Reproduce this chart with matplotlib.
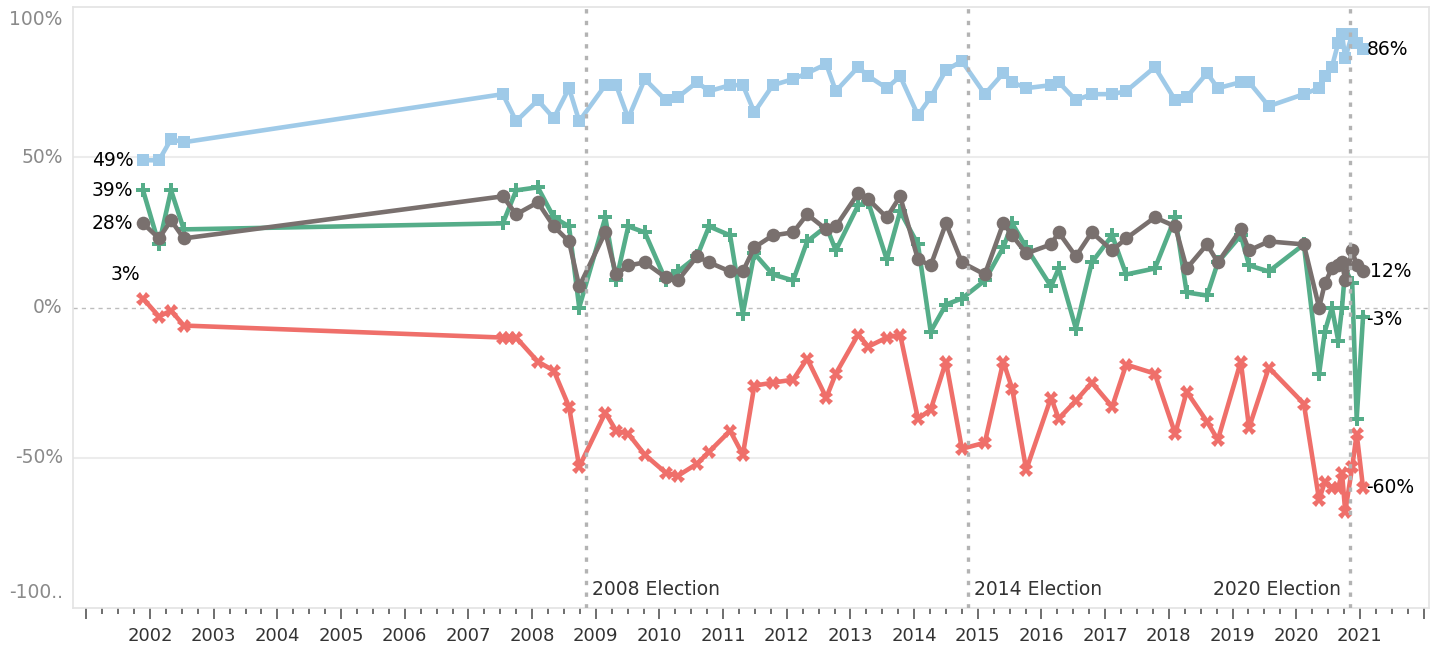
import numpy as np
import matplotlib.pyplot as plt

BLUE = "#9fcae8"
GRAY = "#79706e"
GREEN = "#55ad89"
RED = "#ef6f6a"
LABEL = "#333333"
AXIS_TXT = "#8a8a8a"

# survey dates as decimal years (shared by all four series)
dates = [2001.89, 2002.14, 2002.33, 2002.53, 2007.54, 2007.64, 2007.75, 2008.09,
         2008.34, 2008.58, 2008.74, 2009.15, 2009.32, 2009.51, 2009.77, 2010.10,
         2010.29, 2010.59, 2010.78, 2011.11, 2011.31, 2011.49, 2011.78, 2012.10,
         2012.32, 2012.62, 2012.77, 2013.12, 2013.28, 2013.57, 2013.78, 2014.06,
         2014.26, 2014.50, 2014.75, 2015.11, 2015.40, 2015.54, 2015.76, 2016.15,
         2016.27, 2016.54, 2016.79, 2017.11, 2017.33, 2017.78, 2018.10, 2018.28,
         2018.60, 2018.77, 2019.13, 2019.26, 2019.57, 2020.12, 2020.36, 2020.45,
         2020.56, 2020.66, 2020.72, 2020.77, 2020.88, 2020.95, 2021.05]

nan = np.nan
blue = [49, 49, 56, 55, 71, nan, 62, 69, 63, 73, 62, 74, 74, 63, 76, 69,
        70, 75, 72, 74, 74, 65, 74, 76, 78, 81, 72, 80, 77, 73, 77, 64,
        70, 79, 82, 71, 78, 75, 73, 74, 75, 69, 71, 71, 72, 80, 69, 70,
        78, 73, 75, 75, 67, 71, 73, 77, 80, 88, 91, 83, 91, 88, 86]
gray = [28, 23, 29, 23, 37, nan, 31, 35, 27, 22, 7, 25, 11, 14, 15, 10,
        9, 17, 15, 12, 12, 20, 24, 25, 31, 26, 27, 38, 36, 30, 37, 16,
        14, 28, 15, 11, 28, 24, 18, 21, 25, 17, 25, 19, 23, 30, 27, 13,
        21, 15, 26, 19, 22, 21, 0, 8, 13, 14, 15, 9, 19, 14, 12]
green = [39, 21, 39, 26, 28, nan, 39, 40, 30, 27, 0, 30, 9, 27, 25, 9,
         12, 17, 27, 24, -2, 18, 11, 9, 22, 27, 19, 34, 35, 16, 32, 21,
         -8, 1, 3, 9, 20, 28, 20, 7, 13, -7, 15, 24, 11, 13, 30, 5,
         4, 15, 24, 14, 12, 21, -22, -8, 0, -11, 0, 13, 8, -37, -3]
red = [3, -3, -1, -6, -10, -10, -10, -18, -21, -33, -53, -35, -41, -42, -49, -55,
       -56, -52, -48, -41, -49, -26, -25, -24, -17, -30, -22, -9, -13, -10, -9, -37,
       -34, -18, -47, -45, -18, -27, -54, -30, -37, -31, -25, -33, -19, -22, -42, -28,
       -38, -44, -18, -40, -20, -32, -64, -58, -60, -60, -55, -68, -53, -42, -60]

elections = [2008.84, 2014.84, 2020.84]
election_labels = ["2008 Election", "2014 Election", "2020 Election"]
years = list(range(2002, 2022))
y_ticks = [100, 50, 0, -50, -100]
y_tick_labels = ["100%", "50%", "0%", "-50%", "-100.."]

plt.rcParams['font.family'] = ['DejaVu Sans']

fig = plt.figure(figsize=(14.37, 6.5), dpi=100)
ax = fig.add_axes([0.0508, 0.0646, 0.9436, 0.9246])
ax.set_xlim(2000.79, 2022.085)
ax.set_ylim(-100, 100)

# grid / reference
for g in (50, -50):
    ax.axhline(g, color="#ececec", lw=1.5, zorder=0)
ax.axhline(0, color="#bdbdbd", lw=1, ls=(0, (3, 3)), zorder=0)
for s in ax.spines.values():
    s.set_color("#e3e3e3")
    s.set_linewidth(1.2)

x = np.array(dates)


def draw(vals, color, marker, ms, z):
    v = np.array(vals, dtype=float)
    m = ~np.isnan(v)
    ax.plot(x[m], v[m], color=color, lw=3.3, marker=marker, ms=ms,
            mfc=color, mec=color, mew=0, zorder=z, solid_joinstyle='round')


draw(red, RED, 'X', 9.5, 2)
draw(green, GREEN, 'P', 9.5, 3)
draw(gray, GRAY, 'o', 9.8, 3.5)
draw(blue, BLUE, 's', 9, 2.5)

# election reference lines
for e in elections:
    ax.axvline(e, color="#b3b3b3", lw=2.4, ls=(0, (1.3, 2.2)), zorder=5)
ax.text(elections[0] + 0.1, -94, election_labels[0], fontsize=13.5, color=LABEL,
        ha='left', va='center')
ax.text(elections[1] + 0.1, -94, election_labels[1], fontsize=13.5, color=LABEL,
        ha='left', va='center')
ax.text(elections[2] - 0.14, -94, election_labels[2], fontsize=13.5, color=LABEL,
        ha='right', va='center')

# start / end labels
ax.text(dates[0] - 0.15, blue[0], "49%", fontsize=13.5, ha='right', va='center')
ax.text(dates[0] - 0.15, green[0], "39%", fontsize=13.5, ha='right', va='center')
ax.text(dates[0] - 0.15, gray[0], "28%", fontsize=13.5, ha='right', va='center')
ax.text(dates[0] - 0.05, red[0] + 8, "3%", fontsize=13.5, ha='right', va='center')
ax.text(dates[-1] + 0.06, blue[-1], "86%", fontsize=13.5, ha='left', va='center')
ax.text(dates[-1] + 0.11, gray[-1], "12%", fontsize=13.5, ha='left', va='center')
ax.text(dates[-1] + 0.05, green[-1] - 1, "-3%", fontsize=13.5, ha='left', va='center')
ax.text(dates[-1] + 0.05, red[-1], "-60%", fontsize=13.5, ha='left', va='center')

# y axis labels (edge labels pulled inside like Tableau does)
ax.set_yticks([])
ytr = ax.get_yaxis_transform()
for val, lab in zip(y_ticks, y_tick_labels):
    yy = val
    if val == 100:
        yy = 95.8
    elif val == -100:
        yy = -94.8
    ax.text(-0.0075, yy, lab, transform=ytr, fontsize=13.5, color=AXIS_TXT,
            ha='right', va='center')

# x axis: year ticks with quarter minor ticks
ax.set_xticks(range(2001, 2023))
ax.set_xticklabels([str(y) if y in years else "" for y in range(2001, 2023)])
ax.set_xticks(np.arange(2001, 2022.01, 0.25), minor=True)
ax.tick_params(axis='x', which='major', length=8, width=1.2, color="#555555",
               labelsize=13, labelcolor=LABEL, pad=6)
ax.tick_params(axis='x', which='minor', length=4, width=1.2, color="#555555")

fig.savefig("out.png", dpi=100)
